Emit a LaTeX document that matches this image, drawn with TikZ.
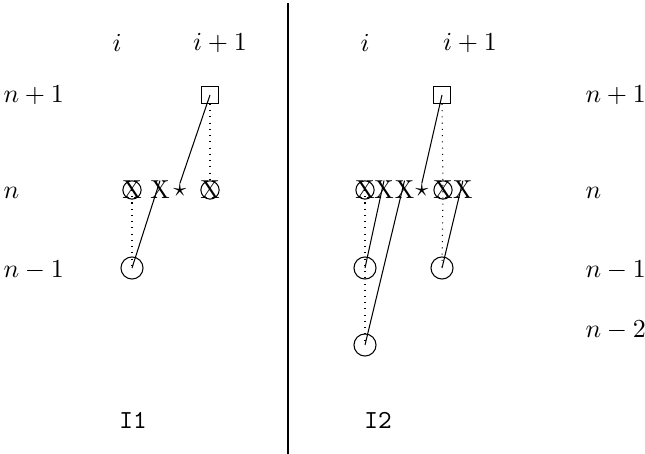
\documentclass[tikz,border=0pt]{standalone}
\usepackage{amsmath,amssymb}
\usetikzlibrary{positioning}
\begin{document}
\begin{tikzpicture}[x=0.385pt,y=-0.385pt,
crossed/.style={circle,draw,inner sep=-1.1pt},
site/.style={circle,draw,inner sep=0pt,minimum size=8.5pt},
sq/.style={rectangle,draw,inner sep=0pt,minimum size=6.5pt},
lab/.style={anchor=west,inner sep=0pt},
sym/.style={inner sep=0pt}]
\useasboundingbox (0,0) rectangle (645,454);
\draw (288,3)--(288,454);
\node at (117,43) {$i$};
\node at (220,43) {$i+1$};
\node at (365,43) {$i$};
\node at (470,43) {$i+1$};
\node[lab] at (3,95) {$n+1$};
\node[lab] at (3,193) {$n$};
\node[lab] at (3,270) {$n-1$};
\node[lab] at (585,95) {$n+1$};
\node[lab] at (585,193) {$n$};
\node[lab] at (585,270) {$n-1$};
\node[lab] at (585,330) {$n-2$};
% I1
\node[sq] (sqL) at (210,95) {};
\node[crossed] (xa) at (132,190) {X};
\node[sym] (xb) at (160,190) {X};
\node[sym,right=1pt of xb] (stL) {$\star$};
\node[crossed] (xc) at (210,190) {X};
\node[site] (cL) at (132,268) {};
\draw[dotted] (xa.center)--(cL.center);
\draw[dotted] (sqL.south)--(xc.north);
\draw (sqL.center)--(stL.north);
\draw (xb.north)--(cL.center);
\node at (133,420) {\texttt{I1}};
% I2
\node[sq] (sqR) at (442,95) {};
\node[crossed] (ya) at (365,190) {X};
\node[sym] (yb) at (384,190) {X};
\node[sym,right=0pt of yb] (yc) {X};
\node[sym,right=0pt of yc] (stR) {$\star$};
\node[crossed] (yd) at (443,190) {X};
\node[sym,right=0pt of yd] (ye) {X};
\node[site] (ca) at (365,268) {};
\node[site] (cb) at (442,268) {};
\node[site] (cc) at (365,345) {};
\draw[dotted] (ya.center)--(ca.center)--(cc.center);
\draw[dotted] (sqR.south)--(yd.center)--(cb.center);
\draw (sqR.center)--(stR.north);
\draw (yb.north)--(ca.center);
\draw (yc.north)--(cc.center);
\draw (ye.north)--(cb.center);
\node at (378,420) {\texttt{I2}};
\end{tikzpicture}
\end{document}
